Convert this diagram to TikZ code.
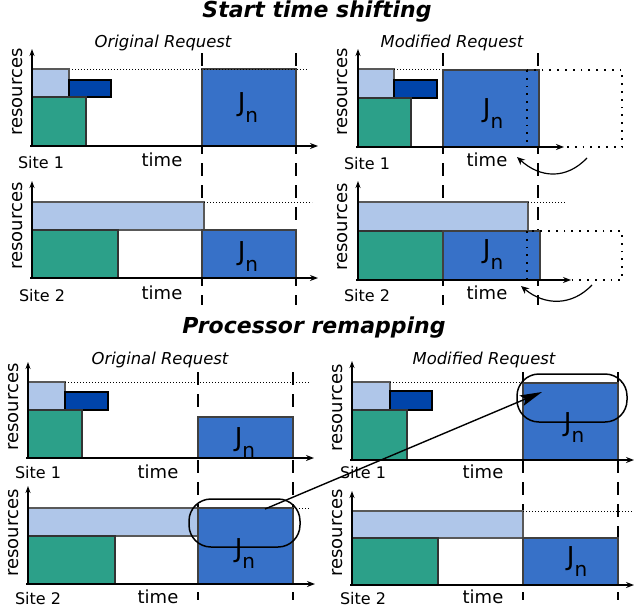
\documentclass[tikz,border=0pt]{standalone}
\usepackage{fontspec}
\setmainfont{DejaVu Sans}
\usetikzlibrary{arrows.meta}

\definecolor{paleblue}{HTML}{AFC6E9}
\definecolor{deepblue}{HTML}{0044AA}
\definecolor{jadegreen}{HTML}{2CA089}
\definecolor{jobblue}{HTML}{3771C8}

\newcommand{\jlabel}{{\fontsize{26}{26}\selectfont J\raisebox{-11pt}{\fontsize{20}{20}\selectfont n}}}

\begin{document}
\begin{tikzpicture}[x=1pt, y=-1pt,
    pale/.style={fill=paleblue, draw=black!65, line width=1.1pt},
    deep/.style={fill=deepblue, draw=black, line width=1.1pt},
    jade/.style={fill=jadegreen, draw=black!80, line width=1.1pt},
    job/.style={fill=jobblue, draw=black!75, line width=1.1pt},
    xaxis/.style={-{Stealth[length=8pt, width=6pt]}, line width=1.7pt},
    yaxis/.style={-{Stealth[length=7pt, width=5pt]}, line width=1.2pt},
    thindot/.style={line width=1pt, dash pattern=on 1pt off 2pt},
    bigdot/.style={line width=1.8pt, dash pattern=on 1.8pt off 6pt},
    guide/.style={line width=1.5pt, dash pattern=on 13pt off 9pt},
    selbox/.style={line width=1.5pt, rounded corners=22pt},
    res/.style={rotate=90, font=\fontsize{18}{18}\selectfont},
    timelbl/.style={font=\fontsize{18}{18}\selectfont},
    sitelbl/.style={font=\fontsize{16}{16}\selectfont},
    reqlbl/.style={font=\fontsize{16.4}{16.4}\selectfont\itshape},
    title/.style={font=\fontsize{22}{22}\selectfont\bfseries\itshape}]
\useasboundingbox (0,0) rectangle (634,613);

% Titles
\node[title] (shift) at (317,12) {Start time shifting};
\node[title] (remap) at (314,328) {Processor remapping};

% Start time shifting: vertical guides
\foreach \gx in {202,296,443,538}
    \draw[guide] (\gx,53) -- (\gx,305);

% --- original request, site 1
\node[reqlbl] (orig1) at (163,43) {Original Request};
\draw[pale] (32,69) rectangle (69,97);
\draw[deep] (69,80) rectangle (111,97);
\draw[jade] (32,97) rectangle (86,146);
\draw[job] (202,69) rectangle (296,146);
\draw[thindot] (72,69) -- (307,69);
\node (jn11) at (248,108) {\jlabel};
\draw[yaxis] (32,147) -- (32,49);
\draw[xaxis] (30,146) -- (318,146);
\node[res] (res11) at (18,92) {resources};
\node[sitelbl] (site11) at (41,163) {Site 1};
\node[timelbl] (time11) at (162,160) {time};

% --- original request, site 2
\draw[pale] (32,202) rectangle (204,230);
\draw[jade] (32,230) rectangle (118,278);
\draw[job] (202,230) rectangle (296,278);
\draw[thindot] (204,202) -- (312,202);
\node (jn12) at (248,257) {\jlabel};
\draw[yaxis] (32,279) -- (32,181);
\draw[xaxis] (30,278) -- (318,278);
\node[res] (res12) at (18,226) {resources};
\node[sitelbl] (site12) at (42,296) {Site 2};
\node[timelbl] (time12) at (162,293) {time};

% --- modified request, site 1
\node[reqlbl] (mod1) at (452,43) {Modified Request};
\draw[pale] (358,69) rectangle (394,98);
\draw[deep] (394,80) rectangle (437,98);
\draw[jade] (358,98) rectangle (411,147);
\draw[thindot] (394,69) -- (443,69);
\draw[job] (443,70) rectangle (539,147);
\draw[bigdot] (527,70) rectangle (622,147);
\node (jn21) at (493,114) {\jlabel};
\draw[yaxis] (358,148) -- (358,49);
\draw[xaxis] (356,147) -- (564,147);
\node[res] (res21) at (343,92) {resources};
\node[sitelbl] (site21) at (367,164) {Site 1};
\node[timelbl] (time21) at (487,160) {time};
\coordinate (from21) at (587,158);
\coordinate (to21) at (517,157);
\draw[-{Stealth[length=8pt, width=7pt]}, line width=1.2pt] (from21) .. controls (566,180) and (540,178) .. (to21);

% --- modified request, site 2
\draw[pale] (358,202) rectangle (528,231);
\draw[thindot] (528,202) -- (565,202);
\draw[jade] (358,231) rectangle (443,280);
\draw[job] (443,231) rectangle (540,280);
\draw[bigdot] (527,231) rectangle (622,280);
\node (jn22) at (493,255) {\jlabel};
\draw[yaxis] (358,281) -- (358,181);
\draw[xaxis] (356,280) -- (571,280);
\node[res] (res22) at (343,227) {resources};
\node[sitelbl] (site22) at (367,296) {Site 2};
\node[timelbl] (time22) at (487,293) {time};
\coordinate (from22) at (592,285);
\coordinate (to22) at (521,286);
\draw[-{Stealth[length=8pt, width=7pt]}, line width=1.2pt] (from22) .. controls (572,306) and (545,306) .. (to22);

% Processor remapping: vertical guides
\foreach \gx in {198,293,523,618}
    \draw[guide] (\gx,372) -- (\gx,600);

% --- original request, site 1
\node[reqlbl] (orig2) at (160,360) {Original Request};
\draw[pale] (28,382) rectangle (65,410);
\draw[deep] (65,392) rectangle (108,410);
\draw[jade] (28,410) rectangle (82,458);
\draw[job] (198,417) rectangle (293,458);
\draw[thindot] (65,382) -- (310,382);
\node (jn31) at (245,443) {\jlabel};
\draw[yaxis] (28,459) -- (28,362);
\draw[xaxis] (26,458) -- (314,458);
\node[res] (res31) at (14,407) {resources};
\node[sitelbl] (site31) at (38,473) {Site 1};
\node[timelbl] (time31) at (158,472) {time};

% --- original request, site 2
\draw[pale] (28,508) rectangle (198,536);
\draw[jade] (28,536) rectangle (115,584);
\draw[job] (198,508) rectangle (293,584);
\draw[thindot] (293,508) -- (310,508);
\node (jn32) at (245,554) {\jlabel};
\draw[yaxis] (28,585) -- (28,486);
\draw[xaxis] (26,584) -- (315,584);
\node[res] (res32) at (14,533) {resources};
\node[sitelbl] (site32) at (38,599) {Site 2};
\node[timelbl] (time32) at (158,597) {time};
\draw[selbox] (189,499) rectangle (300,547);

% --- modified request, site 1
\node[reqlbl] (mod2) at (484,360) {Modified Request};
\draw[pale] (352,382) rectangle (390,410);
\draw[deep] (390,391) rectangle (432,410);
\draw[jade] (352,410) rectangle (407,460);
\draw[thindot] (390,382) -- (622,382);
\draw[job] (523,383) rectangle (618,460);
\node (jn41) at (574,428) {\jlabel};
\draw[yaxis] (352,461) -- (352,361);
\draw[xaxis] (350,460) -- (634,460);
\node[res] (res41) at (338,408) {resources};
\node[sitelbl] (site41) at (363,473) {Site 1};
\node[timelbl] (time41) at (483,472) {time};
\draw[selbox] (517,374) rectangle (627,422);

% --- modified request, site 2
\draw[pale] (352,511) rectangle (523,538);
\draw[thindot] (523,511) -- (634,511);
\draw[jade] (352,538) rectangle (438,585);
\draw[job] (523,538) rectangle (618,585);
\node (jn42) at (577,562) {\jlabel};
\draw[yaxis] (352,586) -- (352,491);
\draw[xaxis] (350,585) -- (634,585);
\node[res] (res42) at (338,533) {resources};
\node[sitelbl] (site42) at (363,599) {Site 2};
\node[timelbl] (time42) at (483,597) {time};

% remapped processors
\coordinate (oldpart) at (265,509);
\coordinate (newpart) at (542,392);
\draw[-{Stealth[length=22pt, width=11pt, inset=4pt]}, line width=1.4pt] (oldpart) -- (newpart);
\end{tikzpicture}
\end{document}
